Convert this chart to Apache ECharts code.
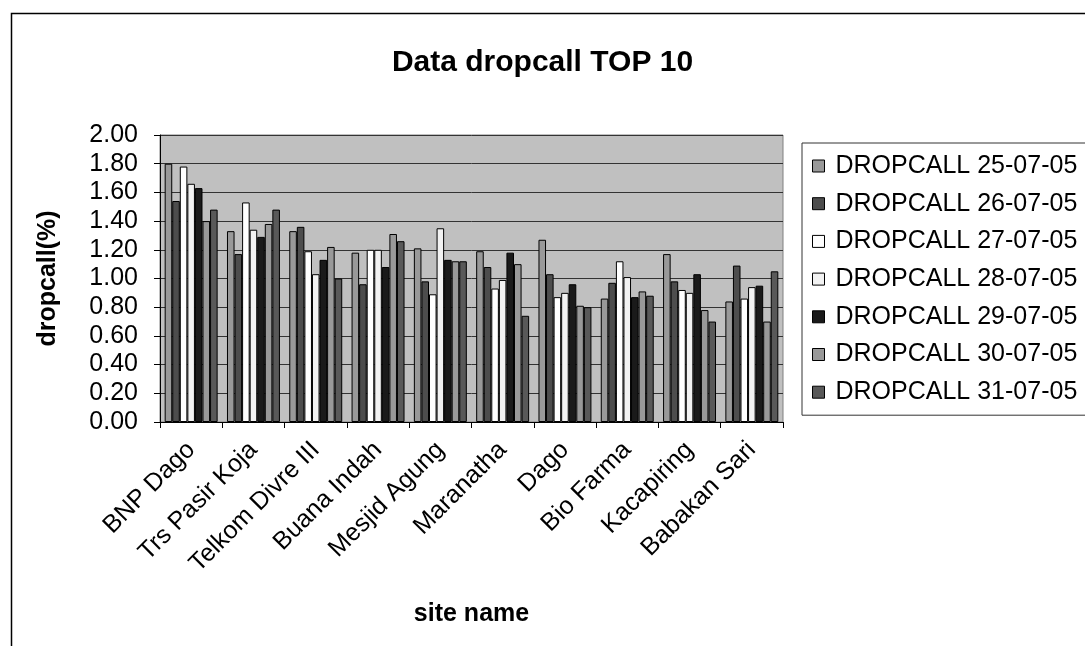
<!DOCTYPE html>
<html>
<head>
<meta charset="utf-8">
<script src="https://cdn.jsdelivr.net/npm/echarts@6/dist/echarts.min.js"></script>
<style>
html,body{margin:0;padding:0;background:#fff;}
#chart{width:1085px;height:646px;}
</style>
</head>
<body>
<div id="chart"></div>
<script>
const categories = ['BNP Dago','Trs Pasir Koja','Telkom Divre III','Buana Indah','Mesjid Agung','Maranatha','Dago','Bio Farma','Kacapiring','Babakan Sari'];
const seriesNames = ['DROPCALL 25-07-05','DROPCALL 26-07-05','DROPCALL 27-07-05','DROPCALL 28-07-05','DROPCALL 29-07-05','DROPCALL 30-07-05','DROPCALL 31-07-05'];
const d25 = [1.80, 1.33, 1.33, 1.18, 1.21, 1.19, 1.27, 0.86, 1.17, 0.84];
const d26 = [1.54, 1.17, 1.36, 0.96, 0.98, 1.08, 1.03, 0.97, 0.98, 1.09];
const d27 = [1.78, 1.53, 1.19, 1.20, 0.89, 0.93, 0.87, 1.12, 0.92, 0.86];
const d28 = [1.66, 1.34, 1.03, 1.20, 1.35, 0.99, 0.90, 1.01, 0.90, 0.94];
const d29 = [1.63, 1.29, 1.13, 1.08, 1.13, 1.18, 0.96, 0.87, 1.03, 0.95];
const d30 = [1.40, 1.38, 1.22, 1.31, 1.12, 1.10, 0.81, 0.91, 0.78, 0.70];
const d31 = [1.48, 1.48, 1.00, 1.26, 1.12, 0.74, 0.80, 0.88, 0.70, 1.05];
const yTicks = ['0.00','0.20','0.40','0.60','0.80','1.00','1.20','1.40','1.60','1.80','2.00'];

const seriesData = [d25, d26, d27, d28, d29, d30, d31];
const colors = ['#999999','#4d4d4d','#ffffff','#f2f2f2','#1a1a1a','#999999','#595959'];
const FONT = 'Liberation Sans, Arial, sans-serif';

const chart = echarts.init(document.getElementById('chart'));
chart.setOption({
  animation: false,
  backgroundColor: '#ffffff',
  graphic: [{
    type: 'rect', left: 9, top: 11, z: -10, silent: true,
    shape: { width: 1100, height: 700 },
    style: { fill: 'none', stroke: '#000', lineWidth: 1.5 }
  }],
  title: {
    text: 'Data dropcall TOP 10',
    left: 'center', top: 43,
    textStyle: { fontFamily: FONT, fontSize: 30, fontWeight: 'bold', color: '#000' }
  },
  legend: {
    orient: 'vertical',
    left: 802, top: 143,
    padding: [8, 30, 8, 10],
    itemWidth: 12, itemHeight: 12,
    itemGap: 7.7,
    icon: 'rect',
    backgroundColor: '#fff',
    borderColor: '#333', borderWidth: 1,
    textStyle: { fontFamily: FONT, fontSize: 25, color: '#000', lineHeight: 30, padding: [0,0,0,6] },
    itemStyle: { borderColor: '#000', borderWidth: 1 },
    data: seriesNames
  },
  grid: { left: 160, right: 302, top: 135, bottom: 224, show: true, backgroundColor: '#c0c0c0', borderColor: '#808080', borderWidth: 1 },
  xAxis: {
    type: 'category',
    data: categories,
    name: 'site name',
    nameLocation: 'middle',
    nameGap: 180,
    nameTextStyle: { fontFamily: FONT, fontSize: 25, fontWeight: 'bold', color: '#000' },
    axisLine: { lineStyle: { color: '#000', width: 1 } },
    axisTick: { show: true, length: 6, lineStyle: { color: '#000' } },
    axisLabel: { rotate: 45, fontFamily: FONT, fontSize: 25, color: '#000', margin: 24 }
  },
  yAxis: {
    type: 'value',
    min: 0, max: 2, interval: 0.2,
    name: 'dropcall(%)',
    nameLocation: 'middle',
    nameGap: 99,
    nameRotate: 90,
    nameTextStyle: { fontFamily: FONT, fontSize: 25, fontWeight: 'bold', color: '#000' },
    axisLine: { show: true, lineStyle: { color: '#000', width: 1 } },
    axisTick: { show: true, length: 6, lineStyle: { color: '#000' } },
    axisLabel: { fontFamily: FONT, fontSize: 25, color: '#000', margin: 22,
      formatter: function (v) { return yTicks[Math.round(v / 0.2)]; } },
    splitLine: { show: true, lineStyle: { color: '#333', width: 1 } }
  },
  series: seriesData.map(function (d, i) {
    return {
      name: seriesNames[i],
      type: 'bar',
      data: d,
      barGap: '0%',
      barCategoryGap: '15%',
      itemStyle: { color: colors[i], borderColor: '#000', borderWidth: 1 }
    };
  })
});
</script>
</body>
</html>
